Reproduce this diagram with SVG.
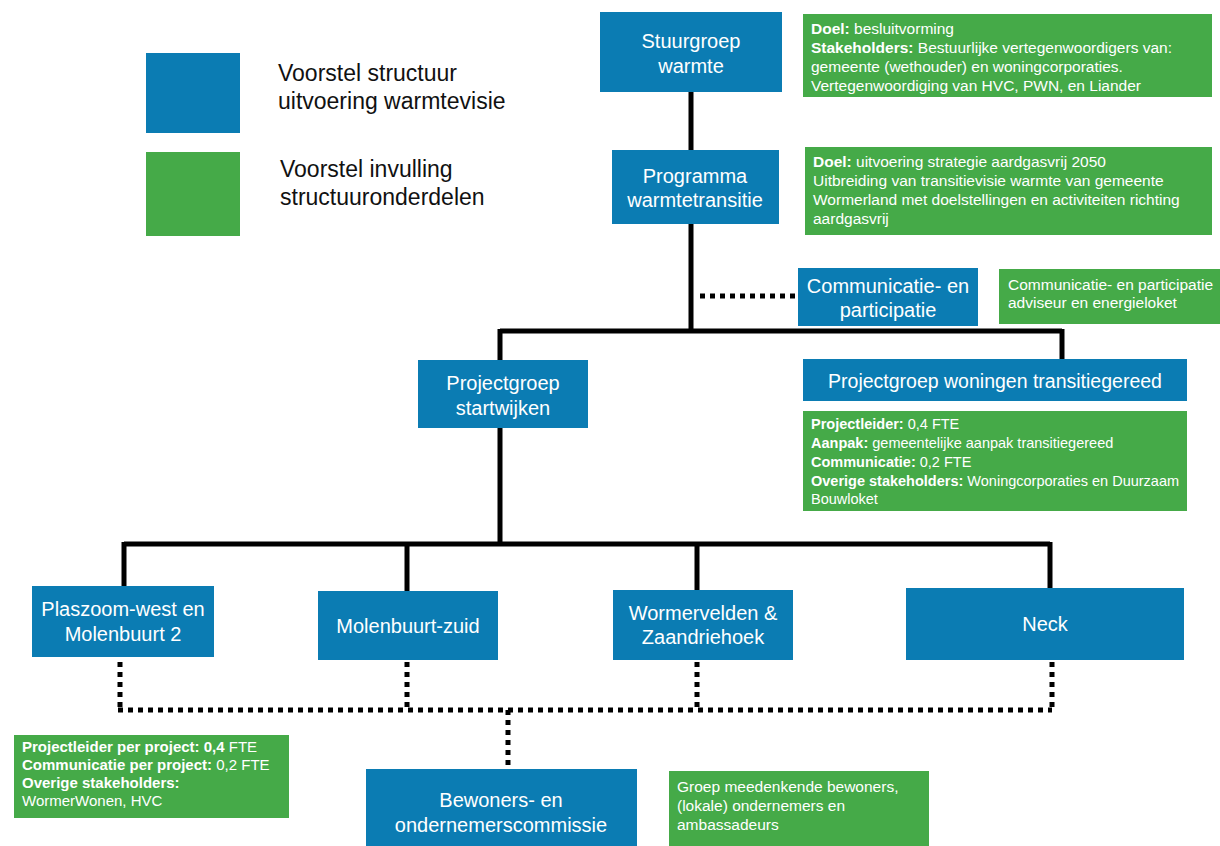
<svg xmlns="http://www.w3.org/2000/svg" width="1220" height="846" viewBox="0 0 1220 846">
<defs>
<style>
.b{fill:#0b7cb3}
.g{fill:#45aa48}
.bt{font-family:"Liberation Sans",Arial,sans-serif;font-size:20px;fill:#fff;text-anchor:middle}
.gt{font-family:"Liberation Sans",Arial,sans-serif;font-size:15.5px;fill:#fff}
.g4{font-size:14.5px}
.g5{font-size:15px}
.gt tspan.k{font-weight:bold}
.lt{font-family:"Liberation Sans",Arial,sans-serif;font-size:23px;fill:#111}
.s{stroke:#000;stroke-width:5;fill:none}
.d{stroke:#000;stroke-width:5;fill:none;stroke-dasharray:5 5}
</style>
</defs>
<rect width="1220" height="846" fill="#fff"/>
<g id="legend">
<rect class="b" x="146" y="53" width="94" height="80"/>
<rect class="g" x="146" y="152" width="94" height="84"/>
<text class="lt" x="278" y="81">Voorstel structuur</text>
<text class="lt" x="278" y="109">uitvoering warmtevisie</text>
<text class="lt" x="280" y="177">Voorstel invulling</text>
<text class="lt" x="280" y="205">structuuronderdelen</text>
</g>
<g id="connectors">
<path class="s" d="M691 92V331"/>
<path class="s" d="M500 331H1062M500 329V362M1062 329V360"/>
<path class="d" d="M700 296H798"/>
<path class="s" d="M500 428V544M124 544H1050M124 542V588M407 542V591M697 542V590M1050 542V588"/>
<path class="d" d="M120 662V710M407 662V710M697 662V710M1052 662V710M118 710H1052M508 710V768"/>
</g>
<g id="stuurgroep">
<rect class="b" x="600" y="12" width="182" height="80"/>
<text class="bt" x="691" y="48">Stuurgroep</text>
<text class="bt" x="691" y="73">warmte</text>
</g>
<g id="info-stuurgroep">
<rect class="g" x="803" y="14" width="409" height="83"/>
<text class="gt" x="811" y="34"><tspan class="k">Doel:</tspan> besluitvorming</text>
<text class="gt" x="811" y="53"><tspan class="k">Stakeholders:</tspan> Bestuurlijke vertegenwoordigers van:</text>
<text class="gt" x="811" y="72">gemeente (wethouder) en woningcorporaties.</text>
<text class="gt" x="811" y="91">Vertegenwoordiging van HVC, PWN, en Liander</text>
</g>
<g id="programma">
<rect class="b" x="612" y="150" width="167" height="74"/>
<text class="bt" x="695" y="183">Programma</text>
<text class="bt" x="695" y="207">warmtetransitie</text>
</g>
<g id="info-programma">
<rect class="g" x="805" y="147" width="407" height="88"/>
<text class="gt" x="813" y="167"><tspan class="k">Doel:</tspan> uitvoering strategie aardgasvrij 2050</text>
<text class="gt" x="813" y="186">Uitbreiding van transitievisie warmte van gemeente</text>
<text class="gt" x="813" y="205">Wormerland met doelstellingen en activiteiten richting</text>
<text class="gt" x="813" y="224">aardgasvrij</text>
</g>
<g id="communicatie">
<rect class="b" x="798" y="268" width="180" height="58"/>
<text class="bt" x="888" y="293">Communicatie- en</text>
<text class="bt" x="888" y="317">participatie</text>
</g>
<g id="info-communicatie">
<rect class="g" x="999" y="269" width="221" height="55"/>
<text class="gt" x="1008" y="290">Communicatie- en participatie</text>
<text class="gt" x="1008" y="308">adviseur en energieloket</text>
</g>
<g id="startwijken">
<rect class="b" x="418" y="360" width="170" height="68"/>
<text class="bt" x="503" y="390">Projectgroep</text>
<text class="bt" x="503" y="415">startwijken</text>
</g>
<g id="woningen">
<rect class="b" x="803" y="359" width="384" height="42"/>
<text class="bt" x="995" y="388" style="font-size:19.5px">Projectgroep woningen transitiegereed</text>
</g>
<g id="info-woningen">
<rect class="g" x="803" y="411" width="384" height="100"/>
<text class="gt g4" x="811" y="429"><tspan class="k">Projectleider:</tspan> 0,4 FTE</text>
<text class="gt g4" x="811" y="448"><tspan class="k">Aanpak:</tspan> gemeentelijke aanpak transitiegereed</text>
<text class="gt g4" x="811" y="467"><tspan class="k">Communicatie:</tspan> 0,2 FTE</text>
<text class="gt g4" x="811" y="486"><tspan class="k">Overige stakeholders:</tspan> Woningcorporaties en Duurzaam</text>
<text class="gt g4" x="811" y="504">Bouwloket</text>
</g>
<g id="plaszoom">
<rect class="b" x="32" y="586" width="182" height="71"/>
<text class="bt" x="123" y="616">Plaszoom-west en</text>
<text class="bt" x="123" y="641">Molenbuurt 2</text>
</g>
<g id="molenbuurt">
<rect class="b" x="318" y="591" width="180" height="69"/>
<text class="bt" x="408" y="633">Molenbuurt-zuid</text>
</g>
<g id="wormervelden">
<rect class="b" x="613" y="590" width="180" height="70"/>
<text class="bt" x="703" y="620">Wormervelden &amp;</text>
<text class="bt" x="703" y="644">Zaandriehoek</text>
</g>
<g id="neck">
<rect class="b" x="906" y="588" width="278" height="72"/>
<text class="bt" x="1045" y="631">Neck</text>
</g>
<g id="info-wijken">
<rect class="g" x="14" y="735" width="275" height="83"/>
<text class="gt g5" x="22" y="752"><tspan class="k">Projectleider per project: 0,4</tspan> FTE</text>
<text class="gt g5" x="22" y="770"><tspan class="k">Communicatie per project:</tspan> 0,2 FTE</text>
<text class="gt g5" x="22" y="788"><tspan class="k">Overige stakeholders:</tspan></text>
<text class="gt g5" x="22" y="806">WormerWonen, HVC</text>
</g>
<g id="bewoners">
<rect class="b" x="366" y="769" width="271" height="80"/>
<text class="bt" x="501" y="807">Bewoners- en</text>
<text class="bt" x="501" y="832">ondernemerscommissie</text>
</g>
<g id="info-bewoners">
<rect class="g" x="669" y="771" width="260" height="78"/>
<text class="gt" x="677" y="792">Groep meedenkende bewoners,</text>
<text class="gt" x="677" y="811">(lokale) ondernemers  en</text>
<text class="gt" x="677" y="830">ambassadeurs</text>
</g>
</svg>
